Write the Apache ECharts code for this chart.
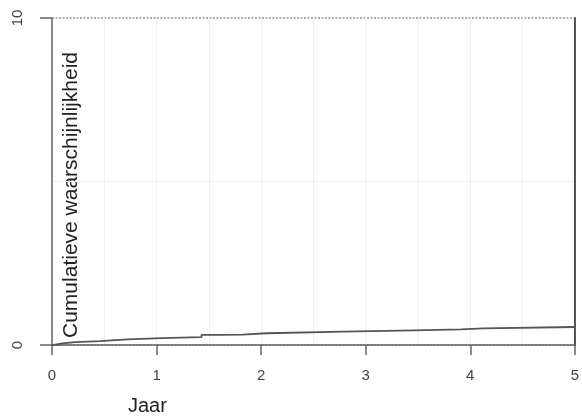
<!DOCTYPE html>
<html>
<head>
<meta charset="utf-8">
<script src="https://cdn.jsdelivr.net/npm/echarts@6/dist/echarts.min.js"></script>
<style>
  html, body { margin: 0; padding: 0; background: #fff; }
  #chart { width: 582px; height: 419px; }
</style>
</head>
<body>
<div id="chart"></div>
<script>
// Cumulative probability step curve (years vs. value)
const jaar = [0, 0.02, 0.10, 0.22, 0.46, 0.72, 1.05, 1.43, 1.60, 1.82, 2.05, 2.79, 3.46, 3.91, 4.12, 5.00];
const kans = [0, 0.05, 0.09, 0.12, 0.17, 0.21, 0.24, 0.31, 0.32, 0.36, 0.41, 0.45, 0.48, 0.51, 0.55, 0.55];
const xTicks = [0, 1, 2, 3, 4, 5];
const yTicks = [0, 10];

const chart = echarts.init(document.getElementById('chart'), null, { renderer: 'canvas' });

const font = 'Liberation Sans, Arial, sans-serif';

chart.setOption({
  animation: false,
  backgroundColor: '#fff',
  grid: { left: 52, right: 5, top: 18, bottom: 74, containLabel: false },
  xAxis: {
    type: 'value',
    min: xTicks[0],
    max: xTicks[xTicks.length - 1],
    interval: 1,
    axisLine: { show: true, lineStyle: { color: '#666', width: 1.5 } },
    axisTick: { show: true, length: 10, lineStyle: { color: '#666', width: 1.5 } },
    axisLabel: { color: '#444', fontSize: 15, fontFamily: font, margin: 23 },
    splitLine: { show: true, lineStyle: { color: '#efefef', width: 1 } },
    minorTick: { show: false, splitNumber: 2 },
    minorSplitLine: { show: true, lineStyle: { color: '#efefef', width: 1 } }
  },
  yAxis: [{
    type: 'value',
    min: yTicks[0],
    max: yTicks[yTicks.length - 1],
    interval: 10,
    axisLine: { show: true, lineStyle: { color: '#666', width: 1.5 } },
    axisTick: { show: true, length: 12, lineStyle: { color: '#666', width: 1.5 } },
    axisLabel: { color: '#444', fontSize: 15, fontFamily: font, rotate: 90, margin: 34, align: 'center', verticalAlign: 'middle' },
    splitLine: { show: true, lineStyle: { color: '#999', width: 1.5, type: [2, 1.5] } },
    minorTick: { show: false, splitNumber: 2 },
    minorSplitLine: { show: true, lineStyle: { color: '#efefef', width: 1 } }
  }, {
    type: 'value',
    position: 'right',
    min: yTicks[0],
    max: yTicks[yTicks.length - 1],
    interval: 10,
    axisLine: { show: true, lineStyle: { color: '#555', width: 2 } },
    axisTick: { show: false },
    axisLabel: { show: false },
    splitLine: { show: false }
  }],
  series: [{
    type: 'line',
    step: 'end',
    data: jaar.map((t, i) => [t, kans[i]]),
    showSymbol: false,
    lineStyle: { color: '#555', width: 1.8 },
    z: 5
  }],
  graphic: [{
    type: 'text',
    left: 128,
    top: 396,
    style: { text: 'Jaar', font: '20px ' + font, fill: '#222' }
  }, {
    type: 'text',
    x: 71,
    y: 195,
    rotation: Math.PI / 2,
    style: {
      text: 'Cumulatieve waarschijnlijkheid',
      font: '21px ' + font,
      fill: '#222',
      align: 'center',
      verticalAlign: 'middle'
    }
  }]
});
</script>
</body>
</html>
